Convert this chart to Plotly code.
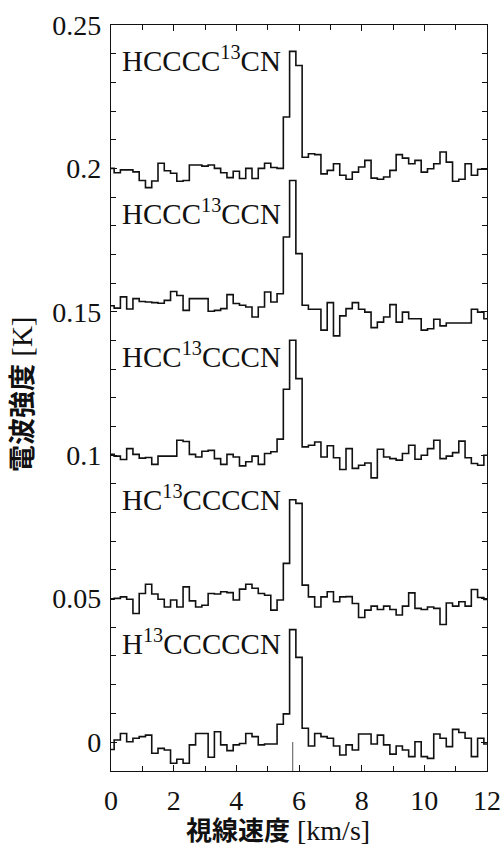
import plotly.graph_objects as go

# Velocity channels (km/s), channel centres
velocity = [0.0, 0.2, 0.4, 0.6, 0.8, 1.0, 1.2, 1.4, 1.6, 1.8,
            2.0, 2.2, 2.4, 2.6, 2.8, 3.0, 3.2, 3.4, 3.6, 3.8,
            4.0, 4.2, 4.4, 4.6, 4.8, 5.0, 5.2, 5.4, 5.6, 5.8,
            6.0, 6.2, 6.4, 6.6, 6.8, 7.0, 7.2, 7.4, 7.6, 7.8,
            8.0, 8.2, 8.4, 8.6, 8.8, 9.0, 9.2, 9.4, 9.6, 9.8,
            10.0, 10.2, 10.4, 10.6, 10.8, 11.0, 11.2, 11.4, 11.6, 11.8, 12.0]

# Antenna temperature [K] (with vertical offsets as plotted)
hcccc13cn = [0.2000, 0.1985, 0.1995, 0.1995, 0.1988, 0.1958, 0.1933, 0.1956, 0.2018, 0.1992,
             0.1983, 0.1955, 0.1958, 0.2012, 0.2012, 0.2008, 0.2012, 0.2000, 0.1985, 0.1968,
             0.1990, 0.1965, 0.2000, 0.1965, 0.2000, 0.2018, 0.2003, 0.2000, 0.2179, 0.2408,
             0.2359, 0.2039, 0.2051, 0.2048, 0.1981, 0.1993, 0.2016, 0.1976, 0.1962, 0.1987,
             0.2005, 0.2028, 0.1966, 0.1962, 0.1970, 0.1993, 0.2048, 0.2036, 0.2016, 0.2028,
             0.1987, 0.1999, 0.2016, 0.2057, 0.2022, 0.1955, 0.1962, 0.2016, 0.1976, 0.1997, 0.1997]

hccc13ccn = [0.1521, 0.1513, 0.1552, 0.1510, 0.1546, 0.1536, 0.1534, 0.1532, 0.1530, 0.1540,
             0.1571, 0.1557, 0.1505, 0.1546, 0.1546, 0.1546, 0.1502, 0.1505, 0.1511, 0.1560,
             0.1529, 0.1523, 0.1517, 0.1482, 0.1517, 0.1569, 0.1534, 0.1563, 0.1761, 0.1958,
             0.1703, 0.1523, 0.1509, 0.1509, 0.1436, 0.1532, 0.1416, 0.1486, 0.1511, 0.1532,
             0.1509, 0.1499, 0.1445, 0.1464, 0.1482, 0.1525, 0.1464, 0.1499, 0.1476, 0.1476,
             0.1436, 0.1441, 0.1474, 0.1451, 0.1461, 0.1461, 0.1461, 0.1461, 0.1509, 0.1499, 0.1476]

hcc13cccn = [0.1003, 0.0997, 0.0985, 0.1023, 0.1003, 0.0990, 0.0992, 0.0968, 0.0997, 0.0997,
             0.0997, 0.1052, 0.1048, 0.1003, 0.0994, 0.1014, 0.1017, 0.0988, 0.0968, 0.1003,
             0.0994, 0.0963, 0.0977, 0.0997, 0.0968, 0.1006, 0.1012, 0.1056, 0.1230, 0.1401,
             0.1267, 0.1029, 0.1035, 0.1046, 0.0994, 0.1033, 0.0991, 0.0950, 0.1023, 0.0954,
             0.0965, 0.0973, 0.0921, 0.1021, 0.0994, 0.0988, 0.0983, 0.1006, 0.1035, 0.0986,
             0.1000, 0.1023, 0.1052, 0.0988, 0.0997, 0.1009, 0.1049, 0.0991, 0.0971, 0.0965, 0.1000]

hc13ccccn = [0.0498, 0.0501, 0.0506, 0.0498, 0.0448, 0.0518, 0.0550, 0.0516, 0.0498, 0.0471,
             0.0495, 0.0471, 0.0541, 0.0492, 0.0471, 0.0477, 0.0518, 0.0516, 0.0524, 0.0521,
             0.0495, 0.0533, 0.0550, 0.0536, 0.0518, 0.0512, 0.0460, 0.0495, 0.0623, 0.0845,
             0.0832, 0.0547, 0.0506, 0.0471, 0.0506, 0.0524, 0.0489, 0.0506, 0.0507, 0.0483,
             0.0434, 0.0460, 0.0474, 0.0462, 0.0474, 0.0462, 0.0443, 0.0474, 0.0520, 0.0466,
             0.0462, 0.0471, 0.0466, 0.0410, 0.0485, 0.0474, 0.0489, 0.0474, 0.0532, 0.0504, 0.0497]

h13cccccn = [-0.0026, 0.0007, 0.0030, 0.0001, 0.0013, 0.0019, 0.0024, -0.0039, -0.0022, -0.0028,
             -0.0074, -0.0060, -0.0074, -0.0010, 0.0030, 0.0030, -0.0053, 0.0036, -0.0010, -0.0030,
             -0.0010, -0.0005, 0.0030, 0.0019, -0.0010, -0.0007, -0.0007, 0.0062, 0.0098, 0.0392,
             0.0295, 0.0048, -0.0014, 0.0030, 0.0019, 0.0013, -0.0014, -0.0045, -0.0010, -0.0028,
             0.0028, 0.0028, -0.0007, 0.0024, -0.0010, -0.0042, -0.0014, -0.0028, -0.0051, 0.0001,
             -0.0051, -0.0057, 0.0028, 0.0013, -0.0016, 0.0044, 0.0033, 0.0013, -0.0051, 0.0013, -0.0007]

spectra = [hcccc13cn, hccc13ccn, hcc13cccn, hc13ccccn, h13cccccn]
labels = ["HCCCC<sup>13</sup>CN", "HCCC<sup>13</sup>CCN", "HCC<sup>13</sup>CCCN",
          "HC<sup>13</sup>CCCCN", "H<sup>13</sup>CCCCCN"]
label_y = [0.2380, 0.1848, 0.1350, 0.0852, 0.0350]

v_sys = 5.8

ytick_vals = [0, 0.05, 0.1, 0.15, 0.2, 0.25]
ytick_text = ["0", "0.05", "0.1", "0.15", "0.2", "0.25"]
xtick_vals = [0, 2, 4, 6, 8, 10, 12]
xtick_text = ["0", "2", "4", "6", "8", "10", "12"]

SERIF = "Liberation Serif, Times New Roman, serif"

fig = go.Figure()
for s in spectra:
    fig.add_trace(go.Scatter(x=velocity, y=s, mode="lines", line_shape="hvh",
                             line=dict(color="#111111", width=1.6), showlegend=False,
                             hoverinfo="skip"))

# systemic velocity marker
fig.add_trace(go.Scatter(x=[v_sys, v_sys], y=[0, -0.0101], mode="lines",
                         line=dict(color="#555555", width=1), showlegend=False,
                         hoverinfo="skip"))

for lab, ly in zip(labels, label_y):
    fig.add_annotation(x=0.3, y=ly, text=lab, showarrow=False, xanchor="left",
                       yanchor="middle", font=dict(family=SERIF, size=29, color="#111111"))

fig.add_annotation(xref="paper", yref="paper", x=-0.24, y=0.505, textangle=-90,
                   text='<span style="font-family:Noto Sans CJK JP;font-size:27px"><b>電波強度</b></span> [K]',
                   showarrow=False, xanchor="center", yanchor="middle",
                   font=dict(family=SERIF, size=29, color="#111111"))
fig.add_annotation(xref="paper", yref="paper", x=0.443, y=-0.077,
                   text='<span style="font-family:Noto Sans CJK JP;font-size:26px"><b>視線速度</b></span> [km/s]',
                   showarrow=False, xanchor="center", yanchor="middle",
                   font=dict(family=SERIF, size=28, color="#111111"))

axis_common = dict(showline=True, linecolor="#111111", linewidth=1.3, mirror="ticks",
                   ticks="inside", ticklen=6, tickwidth=1, tickcolor="#111111",
                   showgrid=False, zeroline=False, automargin=False,
                   ticklabeloverflow="allow",
                   tickfont=dict(family=SERIF, size=28, color="#111111"))

fig.update_xaxes(range=[0, 12], tickvals=xtick_vals, ticktext=xtick_text,
                 ticklabelstandoff=4,
                 minor=dict(dtick=1, ticks="inside", ticklen=5, tickcolor="#111111"),
                 **axis_common)
fig.update_yaxes(range=[-0.0101, 0.25], tickvals=ytick_vals, ticktext=ytick_text,
                 ticklabelstandoff=3,
                 minor=dict(dtick=0.01, tick0=0, ticks="inside", ticklen=5, tickcolor="#111111"),
                 **axis_common)

fig.update_layout(width=504, height=844, margin=dict(l=111, r=17, t=25, b=73),
                  plot_bgcolor="white", paper_bgcolor="white")

fig.write_html("out.html")
